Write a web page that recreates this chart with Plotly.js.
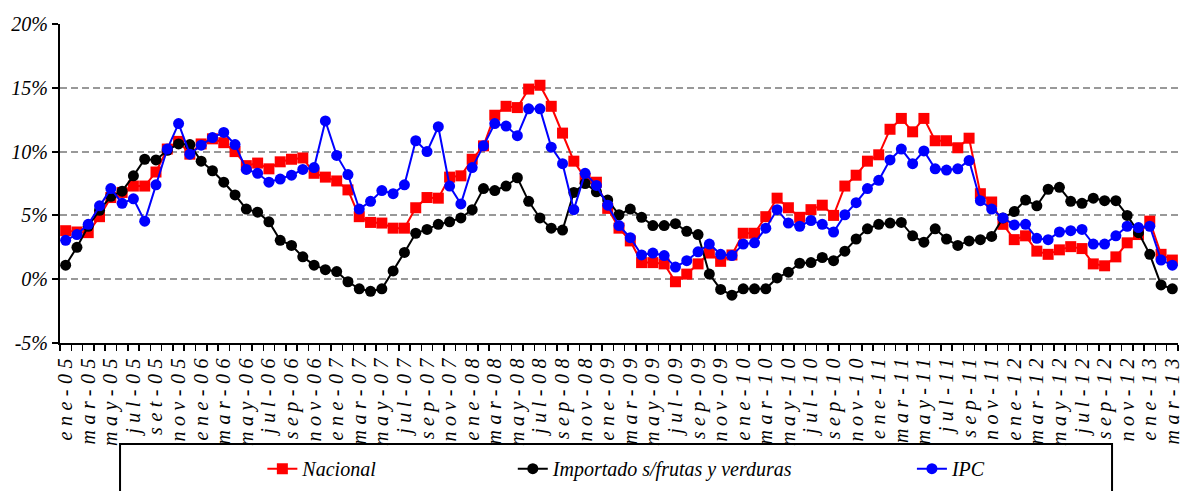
<!DOCTYPE html>
<html><head><meta charset="utf-8">
<script src="https://cdn.plot.ly/plotly-3.0.1.min.js"></script>
<style>
html,body{margin:0;padding:0;background:#fff;}
#chart{width:1181px;height:491px;}
.xtick text{letter-spacing:5.5px;}
</style></head><body><div id="chart"></div>
<script>
const categories = [
 "ene-05","feb-05","mar-05","abr-05","may-05","jun-05","jul-05","ago-05","set-05","oct-05","nov-05","dic-05",
 "ene-06","feb-06","mar-06","abr-06","may-06","jun-06","jul-06","ago-06","sep-06","oct-06","nov-06","dic-06",
 "ene-07","feb-07","mar-07","abr-07","may-07","jun-07","jul-07","ago-07","sep-07","oct-07","nov-07","dic-07",
 "ene-08","feb-08","mar-08","abr-08","may-08","jun-08","jul-08","ago-08","sep-08","oct-08","nov-08","dic-08",
 "ene-09","feb-09","mar-09","abr-09","may-09","jun-09","jul-09","ago-09","sep-09","oct-09","nov-09","dic-09",
 "ene-10","feb-10","mar-10","abr-10","may-10","jun-10","jul-10","ago-10","sep-10","oct-10","nov-10","dic-10",
 "ene-11","feb-11","mar-11","abr-11","may-11","jun-11","jul-11","ago-11","sep-11","oct-11","nov-11","dic-11",
 "ene-12","feb-12","mar-12","abr-12","may-12","jun-12","jul-12","ago-12","sep-12","oct-12","nov-12","dic-12",
 "ene-13","feb-13","mar-13"
];

const nacional = [
 3.8,3.7,3.65,4.9,6.4,6.8,7.3,7.3,8.4,10.2,10.8,9.8,
 10.6,11.0,10.7,10.0,8.9,9.1,8.65,9.2,9.4,9.5,8.3,8.0,
 7.7,7.0,4.9,4.45,4.4,4.0,4.0,5.6,6.4,6.35,8.0,8.1,
 9.4,10.45,12.85,13.55,13.45,14.9,15.2,13.55,11.45,9.25,7.9,7.6,
 5.55,4.0,3.0,1.3,1.3,1.2,-0.2,0.4,1.2,2.05,1.4,1.9,
 3.6,3.6,4.9,6.35,5.6,4.85,5.45,5.8,5.0,7.3,8.15,9.25,
 9.75,11.75,12.6,11.55,12.6,10.85,10.85,10.3,11.05,6.7,6.05,4.3,
 3.1,3.4,2.2,1.95,2.3,2.55,2.4,1.2,1.05,1.75,2.85,3.5,
 4.55,1.95,1.5
];

const importado = [
 1.1,2.5,4.15,5.4,6.5,6.9,8.1,9.4,9.35,10.1,10.6,10.55,
 9.25,8.5,7.6,6.6,5.5,5.25,4.5,3.05,2.65,1.75,1.1,0.75,
 0.6,-0.2,-0.75,-0.95,-0.75,0.65,2.1,3.6,3.9,4.3,4.5,4.8,
 5.45,7.1,6.95,7.3,7.95,6.1,4.8,4.0,3.85,6.8,7.5,6.85,
 6.2,5.05,5.5,4.85,4.2,4.2,4.35,3.75,3.5,0.4,-0.8,-1.25,
 -0.75,-0.75,-0.75,0.1,0.55,1.25,1.3,1.7,1.45,2.2,3.15,3.95,
 4.3,4.4,4.45,3.4,2.9,3.95,3.15,2.65,3.0,3.1,3.35,4.8,
 5.3,6.2,5.75,7.05,7.2,6.1,5.95,6.35,6.15,6.15,5.0,3.65,
 1.95,-0.45,-0.75
];

const ipc = [
 3.05,3.5,4.3,5.75,7.1,5.95,6.3,4.55,7.4,10.2,12.2,9.8,
 10.5,11.1,11.5,10.55,8.6,8.3,7.6,7.85,8.15,8.6,8.75,12.4,
 9.7,8.2,5.5,6.1,6.95,6.7,7.4,10.85,10.0,11.95,7.3,5.9,
 8.75,10.45,12.2,12.0,11.25,13.35,13.35,10.35,9.05,5.45,8.3,7.35,
 5.8,4.2,3.25,1.9,2.05,1.85,0.95,1.45,2.15,2.75,1.95,1.85,
 2.75,2.85,4.0,5.45,4.4,4.15,4.6,4.3,3.7,5.05,6.0,7.1,
 7.75,9.35,10.2,9.05,10.05,8.65,8.55,8.65,9.3,6.15,5.5,4.8,
 4.25,4.3,3.2,3.1,3.7,3.8,3.9,2.75,2.75,3.4,4.15,4.05,
 4.15,1.5,1.1
];

const seriesNames = ["Nacional", "Importado s/frutas y verduras", "IPC"];
const yTickVals = [-5, 0, 5, 10, 15, 20];
const yTickText = ["-5%", "0%", "5%", "10%", "15%", "20%"];

const serif = "Liberation Serif";

const traces = [
  {x: categories, y: nacional, name: seriesNames[0], type: "scatter", mode: "lines+markers",
   line: {color: "#ff0000", width: 2}, marker: {symbol: "square", size: 11, color: "#ff0000"},
   legend: "legend"},
  {x: categories, y: importado, name: seriesNames[1], type: "scatter", mode: "lines+markers",
   line: {color: "#000000", width: 2}, marker: {symbol: "circle", size: 11, color: "#000000"},
   legend: "legend2"},
  {x: categories, y: ipc, name: seriesNames[2], type: "scatter", mode: "lines+markers",
   line: {color: "#0000ff", width: 2}, marker: {symbol: "circle", size: 11, color: "#0000ff"},
   legend: "legend3"}
];

const legendBase = {
  orientation: "h", yanchor: "middle", xanchor: "left", y: -0.394,
  bgcolor: "rgba(0,0,0,0)", borderwidth: 0,
  font: {family: serif, size: 20, style: "italic", color: "#000"}
};

const layout = {
  width: 1181, height: 491,
  margin: {l: 60, r: 3, t: 24, b: 142, pad: 0},
  paper_bgcolor: "#fff", plot_bgcolor: "#fff",
  showlegend: true,
  legend: Object.assign({}, legendBase, {x: 0.181}),
  legend2: Object.assign({}, legendBase, {x: 0.405}),
  legend3: Object.assign({}, legendBase, {x: 0.762}),
  xaxis: {
    type: "category", range: [-0.5, 98.5], automargin: false,
    tickmode: "linear", tick0: 0, dtick: 1, ticklabelstep: 2,
    tickson: "boundaries", ticks: "outside", ticklen: 6, tickwidth: 1.5, tickcolor: "#000",
    tickangle: -90,
    tickfont: {family: serif, size: 20, style: "italic", color: "#000"},
    showline: true, linecolor: "#000", linewidth: 2,
    showgrid: false, zeroline: false
  },
  yaxis: {
    range: [-5, 20], automargin: false,
    tickmode: "array", tickvals: yTickVals, ticktext: yTickText,
    ticks: "outside", ticklen: 6, tickwidth: 2, tickcolor: "#000",
    tickfont: {family: serif, size: 20, style: "italic", color: "#000"},
    showline: true, linecolor: "#000", linewidth: 2,
    showgrid: true, gridcolor: "#999", gridwidth: 2, griddash: "7px,4px",
    zeroline: false
  },
  shapes: [{
    type: "rect", xref: "paper", yref: "paper",
    x0: 0.0537, x1: 0.941, y0: -0.317, y1: -0.55,
    line: {color: "#000", width: 2}, fillcolor: "rgba(0,0,0,0)", layer: "above"
  }]
};

Plotly.newPlot("chart", traces, layout, {displayModeBar: false, staticPlot: true});
</script></body></html>
